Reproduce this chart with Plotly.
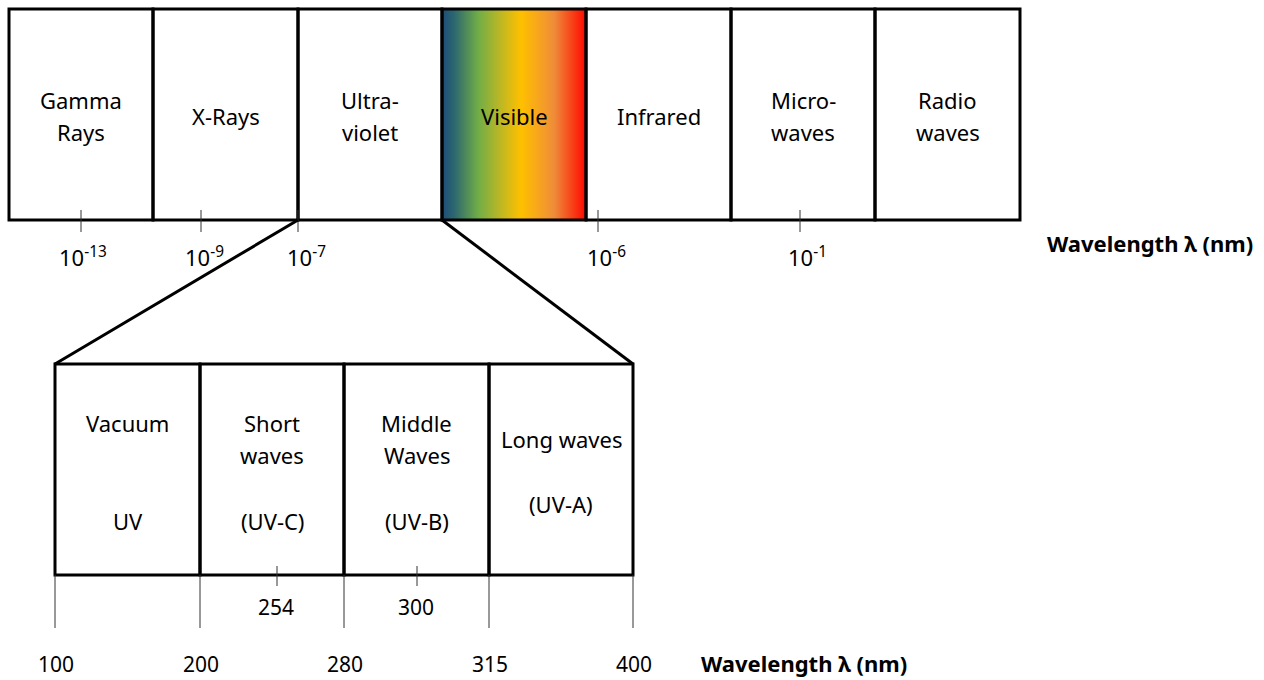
import plotly.graph_objects as go

# ---- data ----
top_bands = ["Gamma<br>Rays", "X-Rays", "Ultra-<br>violet", "Visible", "Infrared", "Micro-<br>waves", "Radio<br>waves"]
top_tick_labels = ["10<sup>-13</sup>", "10<sup>-9</sup>", "10<sup>-7</sup>", "10<sup>-6</sup>", "10<sup>-1</sup>"]
uv_names = ["Vacuum", "Short<br>waves", "Middle<br>Waves", "Long waves"]
uv_codes = ["UV", "(UV-C)", "(UV-B)", "(UV-A)"]
uv_edges = ["100", "200", "280", "315", "400"]
uv_inner_ticks = ["254", "300"]
axis_title = "<b>Wavelength λ (nm)</b>"

# ---- layout geometry (page pixels) ----
W, H = 1264, 680
top_x = [9, 153, 298, 442, 586, 731, 875, 1020]
top_y0, top_y1 = 9, 220
top_tick_x = [81, 201, 298, 598, 800]
top_tick_label_x = [83, 204, 306, 606, 807]
low_x = [55, 200, 344, 489, 633]
low_y0, low_y1 = 364, 575
low_tick_x = [277, 417]
FONT = "Noto Sans"
BLACK = "#000000"
LH = 32  # line spacing

fig = go.Figure()
shapes = []
ann = []


def add_lines(text, cx, cy, size):
    parts = text.split("<br>")
    n = len(parts)
    for k, p in enumerate(parts):
        y = cy + (k - (n - 1) / 2) * LH
        ann.append(dict(x=cx, y=y, text=p, showarrow=False,
                        font=dict(family=FONT, size=size, color=BLACK),
                        xanchor="center", yanchor="middle"))


# visible gradient via heatmap (cell edges)
n = 144
vis_x0, vis_x1 = top_x[3], top_x[4]
xedges = [vis_x0 + (vis_x1 - vis_x0) * i / n for i in range(n + 1)]
zvals = [[i / (n - 1) for i in range(n)]]
fig.add_trace(go.Heatmap(
    z=zvals, x=xedges, y=[top_y0, top_y1],
    colorscale=[[0, "#1f4e79"], [0.08, "#2c6670"], [0.25, "#70ad47"], [0.42, "#c4b820"],
                [0.55, "#ffc000"], [0.78, "#ef8c3a"], [1.0, "#ff0a00"]],
    showscale=False, hoverinfo="skip", zmin=0, zmax=1))

# top boxes
for i, name in enumerate(top_bands):
    shapes.append(dict(type="rect", x0=top_x[i], x1=top_x[i + 1], y0=top_y0, y1=top_y1,
                       line=dict(color=BLACK, width=3), fillcolor="rgba(0,0,0,0)"))
    add_lines(name, (top_x[i] + top_x[i + 1]) / 2, 116, 22)

# top ticks
for tx, tl, lx in zip(top_tick_x, top_tick_labels, top_tick_label_x):
    shapes.append(dict(type="line", x0=tx, x1=tx, y0=210, y1=232, line=dict(color="#333333", width=1)))
    ann.append(dict(x=lx, y=256, text=tl, showarrow=False,
                    font=dict(family=FONT, size=22, color=BLACK), xanchor="center", yanchor="middle"))
ann.append(dict(x=1255, y=243, text=axis_title, showarrow=False,
                font=dict(family=FONT, size=22, color=BLACK), xanchor="right", yanchor="middle"))

# zoom lines
shapes.append(dict(type="line", x0=top_x[2], y0=top_y1, x1=low_x[0], y1=low_y0, line=dict(color=BLACK, width=3)))
shapes.append(dict(type="line", x0=top_x[3], y0=top_y1, x1=low_x[-1], y1=low_y0, line=dict(color=BLACK, width=3)))

# lower boxes
name_y = [423, 439, 439, 439]
code_y = [521, 521, 521, 504]
for i in range(4):
    shapes.append(dict(type="rect", x0=low_x[i], x1=low_x[i + 1], y0=low_y0, y1=low_y1,
                       line=dict(color=BLACK, width=3), fillcolor="rgba(0,0,0,0)"))
    cx = (low_x[i] + low_x[i + 1]) / 2
    add_lines(uv_names[i], cx, name_y[i], 22)
    add_lines(uv_codes[i], cx, code_y[i], 22)

# lower edge lines and labels
for x, lab in zip(low_x, uv_edges):
    shapes.append(dict(type="line", x0=x, x1=x, y0=low_y1, y1=628, line=dict(color="#333333", width=1)))
    ann.append(dict(x=x + 1, y=664, text=lab, showarrow=False,
                    font=dict(family=FONT, size=21, color=BLACK), xanchor="center", yanchor="middle"))
for x, lab in zip(low_tick_x, uv_inner_ticks):
    shapes.append(dict(type="line", x0=x, x1=x, y0=566, y1=586, line=dict(color="#333333", width=1)))
    ann.append(dict(x=x - 1, y=607, text=lab, showarrow=False,
                    font=dict(family=FONT, size=21, color=BLACK), xanchor="center", yanchor="middle"))
ann.append(dict(x=699, y=663, text=axis_title, showarrow=False,
                font=dict(family=FONT, size=22, color=BLACK), xanchor="left", yanchor="middle"))

fig.update_layout(
    width=W, height=H, margin=dict(l=0, r=0, t=0, b=0),
    paper_bgcolor="white", plot_bgcolor="white",
    xaxis=dict(range=[0, W], visible=False, fixedrange=True),
    yaxis=dict(range=[H, 0], visible=False, fixedrange=True),
    shapes=shapes, annotations=ann, showlegend=False)

fig.write_html("out.html", config={"displayModeBar": False},
               post_script="document.body.style.margin='0';document.body.style.overflow='hidden';")
